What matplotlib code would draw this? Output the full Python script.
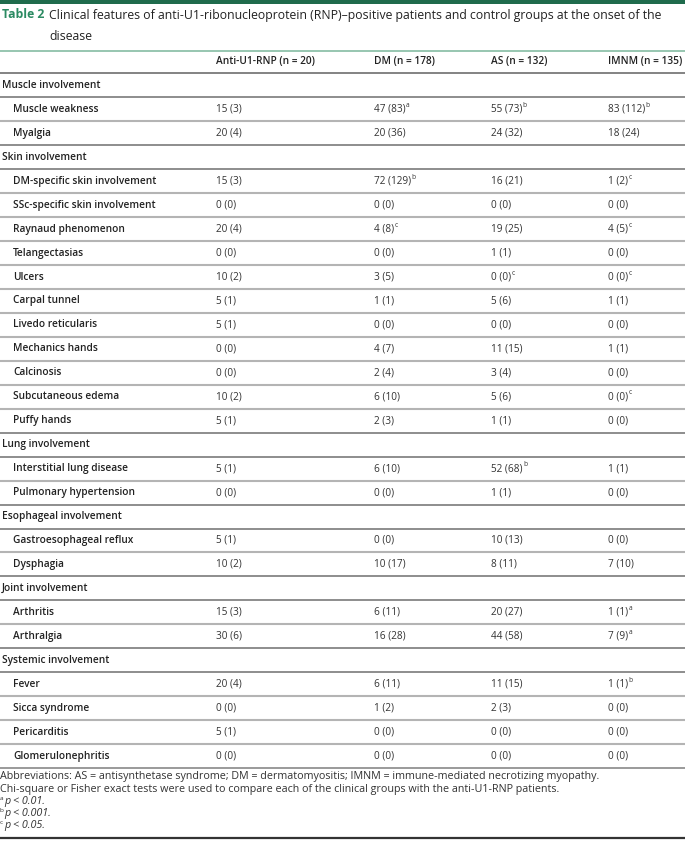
import matplotlib
matplotlib.use("Agg")
import matplotlib.pyplot as plt

# ---------------- data ----------------
title_label = "Table 2"
title_lines = ["Clinical features of anti-U1-ribonucleoprotein (RNP)\u2013positive patients and control groups at the onset of the",
               "disease"]
columns = ["Anti-U1-RNP (n = 20)", "DM (n = 178)", "AS (n = 132)", "IMNM (n = 135)"]

row_labels = ["Muscle involvement", "Muscle weakness", "Myalgia",
              "Skin involvement", "DM-specific skin involvement", "SSc-specific skin involvement",
              "Raynaud phenomenon", "Telangectasias", "Ulcers", "Carpal tunnel", "Livedo reticularis",
              "Mechanics hands", "Calcinosis", "Subcutaneous edema", "Puffy hands",
              "Lung involvement", "Interstitial lung disease", "Pulmonary hypertension",
              "Esophageal involvement", "Gastroesophageal reflux", "Dysphagia",
              "Joint involvement", "Arthritis", "Arthralgia",
              "Systemic involvement", "Fever", "Sicca syndrome", "Pericarditis", "Glomerulonephritis"]
section_rows = ["Muscle involvement", "Skin involvement", "Lung involvement",
                "Esophageal involvement", "Joint involvement", "Systemic involvement"]

# percentages and counts per group (None for section rows)
anti_pct = [None, 15, 20, None, 15, 0, 20, 0, 10, 5, 5, 0, 0, 10, 5, None, 5, 0, None, 5, 10, None, 15, 30, None, 20, 0, 5, 0]
anti_n   = [None, 3, 4, None, 3, 0, 4, 0, 2, 1, 1, 0, 0, 2, 1, None, 1, 0, None, 1, 2, None, 3, 6, None, 4, 0, 1, 0]
dm_pct   = [None, 47, 20, None, 72, 0, 4, 0, 3, 1, 0, 4, 2, 6, 2, None, 6, 0, None, 0, 10, None, 6, 16, None, 6, 1, 0, 0]
dm_n     = [None, 83, 36, None, 129, 0, 8, 0, 5, 1, 0, 7, 4, 10, 3, None, 10, 0, None, 0, 17, None, 11, 28, None, 11, 2, 0, 0]
as_pct   = [None, 55, 24, None, 16, 0, 19, 1, 0, 5, 0, 11, 3, 5, 1, None, 52, 1, None, 10, 8, None, 20, 44, None, 11, 2, 0, 0]
as_n     = [None, 73, 32, None, 21, 0, 25, 1, 0, 6, 0, 15, 4, 6, 1, None, 68, 1, None, 13, 11, None, 27, 58, None, 15, 3, 0, 0]
imnm_pct = [None, 83, 18, None, 1, 0, 4, 0, 0, 1, 0, 1, 0, 0, 0, None, 1, 0, None, 0, 7, None, 1, 7, None, 1, 0, 0, 0]
imnm_n   = [None, 112, 24, None, 2, 0, 5, 0, 0, 1, 0, 1, 0, 0, 0, None, 1, 0, None, 0, 10, None, 1, 9, None, 1, 0, 0, 0]

# significance marks per group
anti_sig = [""] * 29
dm_sig   = ["", "a", "", "", "b", "", "c"] + [""] * 22
as_sig   = ["", "b", "", "", "", "", "", "", "c"] + [""] * 7 + ["b"] + [""] * 12
imnm_sig = ["", "b", "", "", "c", "", "c", "", "c", "", "", "", "", "c", "", "", "", "", "", "", "",
            "", "a", "a", "", "b", "", "", ""]

footnotes = ["Abbreviations: AS = antisynthetase syndrome; DM = dermatomyositis; IMNM = immune-mediated necrotizing myopathy.",
             "Chi-square or Fisher exact tests were used to compare each of the clinical groups with the anti-U1-RNP patients."]
sig_notes = [("a", "p < 0.01."), ("b", "p < 0.001."), ("c", "p < 0.05.")]

# ---------------- drawing ----------------
W, H = 685, 842
fig = plt.figure(figsize=(W / 100, H / 100), dpi=100)
ax = fig.add_axes([0, 0, 1, 1])
ax.set_xlim(0, W)
ax.set_ylim(H, 0)
ax.axis("off")

FONT = "Open Sans"
GREEN_DARK = "#1f6b4c"
GREEN = "#2b8a62"
TXT = "#222222"

fs_body = 7.2
fs_label = 7.3
fs_title = 8.85
fs_foot = 7.75

# top bar
ax.axhspan(0, 4, color=GREEN_DARK, lw=0)

ax.text(2, 15, title_label, fontsize=fs_title, fontweight="bold", color=GREEN,
        family=FONT, va="center", ha="left")
for i, t in enumerate(title_lines):
    ax.text(49, 15 + 21 * i, t, fontsize=fs_title, color=TXT, family=FONT,
            va="center", ha="left")

ax.plot([0, W], [50.5, 50.5], color="#8fc1aa", lw=1.3, solid_capstyle="butt")

col_x = [216, 374, 491, 608]
y0 = 61.5
pitch = 23.95

for x, c in zip(col_x, columns):
    ax.text(x, y0, c, fontsize=fs_label, fontweight="semibold", color=TXT,
            family=FONT, va="center", ha="left")

groups = [(anti_pct, anti_n, anti_sig), (dm_pct, dm_n, dm_sig),
          (as_pct, as_n, as_sig), (imnm_pct, imnm_n, imnm_sig)]

fig.canvas.draw()
renderer = fig.canvas.get_renderer()
inv = ax.transData.inverted()

for i, lab in enumerate(row_labels):
    y = y0 + pitch * (i + 1)
    is_sec = lab in section_rows
    ax.text(2 if is_sec else 13, y, lab, fontsize=fs_label, fontweight="semibold",
            color=TXT, family=FONT, va="center", ha="left")
    if not is_sec:
        for x, (pct, n, sig) in zip(col_x, groups):
            t = ax.text(x, y, f"{pct[i]} ({n[i]})", fontsize=fs_body, color="#333333",
                        family=FONT, va="center", ha="left")
            if sig[i]:
                bb = t.get_window_extent(renderer=renderer)
                xe = inv.transform((bb.x1, bb.y1))[0]
                ax.text(xe + 0.5, y - 4, sig[i], fontsize=fs_body * 0.66, color="#333333",
                        family=FONT, va="center", ha="left")

# separator lines
ax.plot([0, W], [y0 + pitch / 2, y0 + pitch / 2], color="#6e6e6e", lw=1.2, solid_capstyle="butt")
for i, lab in enumerate(row_labels):
    yl = y0 + pitch * (i + 1) + pitch / 2
    if i == len(row_labels) - 1:
        col, lw = "#9a9a9a", 1.4
    else:
        nxt = row_labels[i + 1]
        if lab in section_rows or nxt in section_rows:
            col, lw = "#7a7a7a", 1.2
        else:
            col, lw = "#b4b4b4", 1.5
    ax.plot([0, W], [yl, yl], color=col, lw=lw, solid_capstyle="butt")

fy = 777
for j, f in enumerate(footnotes):
    ax.text(0, fy + 12.2 * j, f, fontsize=fs_foot, color="#333333", family=FONT,
            va="center", ha="left")
for j, (m, s) in enumerate(sig_notes):
    yy = fy + 12.2 * (j + 2)
    ax.text(0, yy - 3, m, fontsize=fs_foot * 0.6, color="#333333", family=FONT,
            va="center", ha="left")
    ax.text(4.5, yy, s, fontsize=fs_foot, color="#333333", family=FONT, style="italic",
            va="center", ha="left")

ax.plot([0, W], [838, 838], color="#333333", lw=1.6, solid_capstyle="butt")

fig.savefig("out.png", dpi=100)
